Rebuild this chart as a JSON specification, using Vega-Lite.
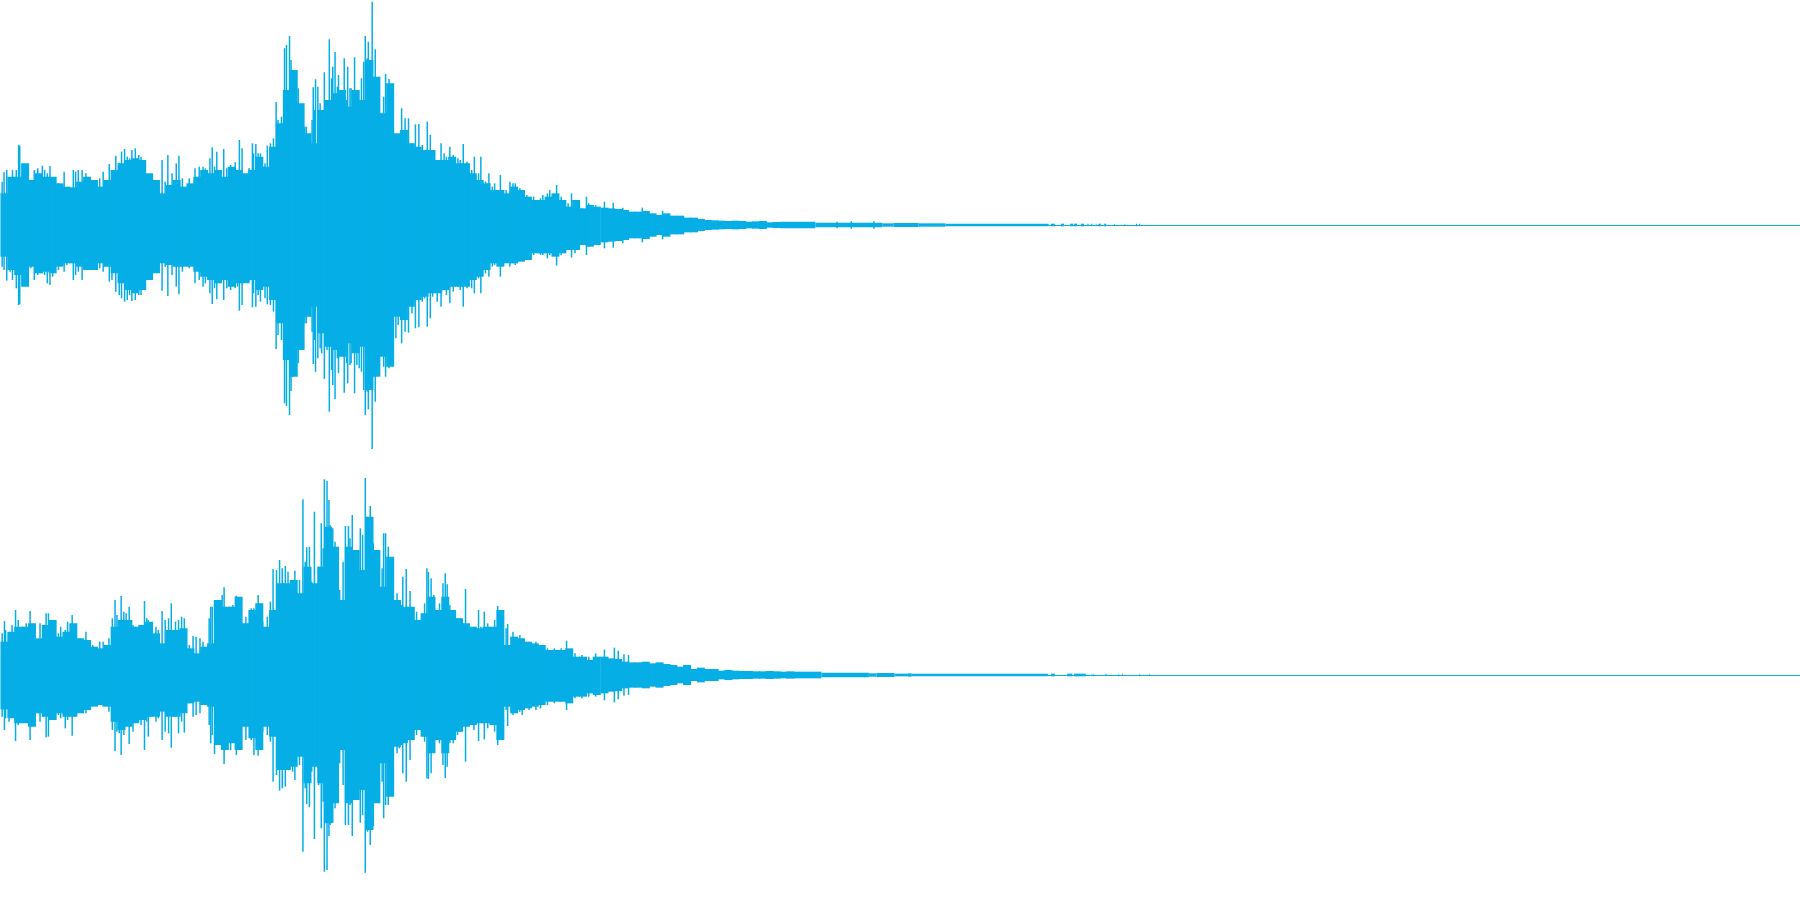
{"$schema":"https://vega.github.io/schema/vega-lite/v6.json","padding":0,"spacing":0,"background":"white","config":{"view":{"stroke":null},"concat":{"spacing":0}},
"datasets":{
"leftBody":[{"t":9,"hi":95,"lo":-95},{"t":27,"hi":145,"lo":-135},{"t":45,"hi":145,"lo":-150},{"t":63,"hi":185,"lo":-185},{"t":81,"hi":135,"lo":-125},{"t":99,"hi":155,"lo":-145},{"t":117,"hi":145,"lo":-140},{"t":135,"hi":145,"lo":-145},{"t":153,"hi":125,"lo":-125},{"t":171,"hi":115,"lo":-115},{"t":189,"hi":113,"lo":-115},{"t":207,"hi":130,"lo":-125},{"t":225,"hi":145,"lo":-135},{"t":243,"hi":135,"lo":-135},{"t":261,"hi":115,"lo":-115},{"t":279,"hi":135,"lo":-125},{"t":297,"hi":165,"lo":-145},{"t":315,"hi":185,"lo":-175},{"t":333,"hi":195,"lo":-195},{"t":351,"hi":200,"lo":-205},{"t":369,"hi":195,"lo":-195},{"t":387,"hi":155,"lo":-165},{"t":405,"hi":135,"lo":-145},{"t":423,"hi":95,"lo":-115},{"t":441,"hi":120,"lo":-120},{"t":459,"hi":135,"lo":-125},{"t":477,"hi":115,"lo":-125},{"t":495,"hi":125,"lo":-125},{"t":513,"hi":145,"lo":-140},{"t":531,"hi":165,"lo":-155},{"t":549,"hi":155,"lo":-165},{"t":567,"hi":165,"lo":-175},{"t":585,"hi":145,"lo":-165},{"t":603,"hi":175,"lo":-185},{"t":621,"hi":165,"lo":-175},{"t":639,"hi":155,"lo":-175},{"t":657,"hi":165,"lo":-165},{"t":675,"hi":205,"lo":-195},{"t":693,"hi":175,"lo":-185},{"t":711,"hi":235,"lo":-225},{"t":729,"hi":305,"lo":-295},{"t":747,"hi":405,"lo":-405},{"t":765,"hi":465,"lo":-455},{"t":783,"hi":365,"lo":-375},{"t":801,"hi":275,"lo":-275},{"t":819,"hi":245,"lo":-245},{"t":837,"hi":345,"lo":-325},{"t":855,"hi":375,"lo":-365},{"t":873,"hi":395,"lo":-375},{"t":891,"hi":405,"lo":-395},{"t":909,"hi":355,"lo":-355},{"t":927,"hi":405,"lo":-385},{"t":945,"hi":375,"lo":-365},{"t":963,"hi":495,"lo":-495},{"t":981,"hi":445,"lo":-455},{"t":999,"hi":335,"lo":-395},{"t":1017,"hi":425,"lo":-425},{"t":1035,"hi":275,"lo":-275},{"t":1053,"hi":285,"lo":-285},{"t":1071,"hi":245,"lo":-245},{"t":1089,"hi":235,"lo":-225},{"t":1107,"hi":225,"lo":-215},{"t":1125,"hi":225,"lo":-205},{"t":1143,"hi":195,"lo":-205},{"t":1161,"hi":195,"lo":-195},{"t":1179,"hi":205,"lo":-185},{"t":1197,"hi":185,"lo":-185},{"t":1215,"hi":185,"lo":-185},{"t":1233,"hi":155,"lo":-165},{"t":1251,"hi":135,"lo":-155},{"t":1269,"hi":125,"lo":-135},{"t":1287,"hi":105,"lo":-115},{"t":1305,"hi":105,"lo":-125},{"t":1323,"hi":95,"lo":-115},{"t":1341,"hi":115,"lo":-115},{"t":1359,"hi":105,"lo":-110},{"t":1377,"hi":85,"lo":-105},{"t":1395,"hi":75,"lo":-85},{"t":1413,"hi":75,"lo":-85},{"t":1431,"hi":85,"lo":-85},{"t":1449,"hi":95,"lo":-95},{"t":1467,"hi":75,"lo":-85},{"t":1485,"hi":55,"lo":-75},{"t":1503,"hi":75,"lo":-75},{"t":1521,"hi":50,"lo":-60},{"t":1539,"hi":60,"lo":-65},{"t":1557,"hi":55,"lo":-60},{"t":1577,"hi":52,"lo":-52},{"t":1595,"hi":50,"lo":-50},{"t":1613,"hi":48,"lo":-48},{"t":1631,"hi":45,"lo":-45},{"t":1649,"hi":40,"lo":-40},{"t":1667,"hi":40,"lo":-40},{"t":1685,"hi":42,"lo":-42},{"t":1703,"hi":35,"lo":-35},{"t":1721,"hi":30,"lo":-30},{"t":1739,"hi":35,"lo":-35},{"t":1757,"hi":28,"lo":-28},{"t":1775,"hi":28,"lo":-28},{"t":1793,"hi":22,"lo":-22},{"t":1811,"hi":22,"lo":-22},{"t":1829,"hi":18,"lo":-18},{"t":1847,"hi":15,"lo":-15},{"t":1865,"hi":14,"lo":-14},{"t":1883,"hi":13,"lo":-13},{"t":1901,"hi":12,"lo":-12},{"t":1919,"hi":13,"lo":-13},{"t":1937,"hi":12,"lo":-12},{"t":1955,"hi":10,"lo":-10},{"t":1973,"hi":11,"lo":-11},{"t":1991,"hi":12,"lo":-12},{"t":2009,"hi":8,"lo":-8},{"t":2027,"hi":9,"lo":-9}],
"leftTail":[{"t":2036,"t2":2128,"hi":10,"lo":-10},{"t":2128,"t2":2303,"hi":7,"lo":-7},{"t":2303,"t2":2333,"hi":5,"lo":-5},{"t":2333,"t2":2398,"hi":6,"lo":-6},{"t":2398,"t2":2468,"hi":5,"lo":-5},{"t":2468,"t2":2738,"hi":4,"lo":-4},{"t":2738,"t2":4704,"hi":0,"lo":-3},{"t":2744,"t2":2754,"hi":4,"lo":-4},{"t":2770,"t2":2778,"hi":4,"lo":-4},{"t":2794,"t2":2802,"hi":4,"lo":-4},{"t":2804,"t2":2812,"hi":4,"lo":-4},{"t":2822,"t2":2830,"hi":4,"lo":-4},{"t":2839,"t2":2842,"hi":4,"lo":-4},{"t":2849,"t2":2852,"hi":4,"lo":-4},{"t":2861,"t2":2863,"hi":4,"lo":-4},{"t":2868,"t2":2874,"hi":4,"lo":-4},{"t":2883,"t2":2888,"hi":4,"lo":-4},{"t":2909,"t2":2911,"hi":4,"lo":-4},{"t":2936,"t2":2938,"hi":4,"lo":-4},{"t":2966,"t2":2969,"hi":4,"lo":-4},{"t":2974,"t2":2977,"hi":4,"lo":-4}],
"leftPeaks":[{"t":46,"hi":240,"lo":-240},{"t":49,"hi":238,"lo":-238},{"t":15,"hi":165,"lo":-167},{"t":30,"hi":165,"lo":-165},{"t":69,"hi":175,"lo":-175},{"t":108,"hi":178,"lo":-145},{"t":128,"hi":177,"lo":-180},{"t":189,"hi":165,"lo":-165},{"t":300,"hi":208,"lo":-200},{"t":315,"hi":220,"lo":-220},{"t":323,"hi":228,"lo":-230},{"t":342,"hi":225,"lo":-228},{"t":360,"hi":210,"lo":-210},{"t":421,"hi":195,"lo":-197},{"t":436,"hi":210,"lo":-213},{"t":458,"hi":185,"lo":-185},{"t":465,"hi":208,"lo":-208},{"t":552,"hi":233,"lo":-237},{"t":564,"hi":220,"lo":-223},{"t":582,"hi":228,"lo":-225},{"t":623,"hi":255,"lo":-257},{"t":630,"hi":230,"lo":-240},{"t":657,"hi":245,"lo":-247},{"t":666,"hi":243,"lo":-245},{"t":678,"hi":215,"lo":-230},{"t":696,"hi":238,"lo":-238},{"t":719,"hi":369,"lo":-372},{"t":741,"hi":530,"lo":-535},{"t":746,"hi":540,"lo":-543},{"t":754,"hi":567,"lo":-570},{"t":758,"hi":495,"lo":-498},{"t":762,"hi":455,"lo":-455},{"t":777,"hi":410,"lo":-415},{"t":786,"hi":297,"lo":-300},{"t":798,"hi":295,"lo":-295},{"t":816,"hi":413,"lo":-417},{"t":822,"hi":437,"lo":-440},{"t":834,"hi":365,"lo":-370},{"t":845,"hi":458,"lo":-462},{"t":858,"hi":557,"lo":-560},{"t":867,"hi":475,"lo":-480},{"t":873,"hi":519,"lo":-522},{"t":882,"hi":450,"lo":-445},{"t":897,"hi":500,"lo":-503},{"t":906,"hi":475,"lo":-475},{"t":915,"hi":410,"lo":-415},{"t":924,"hi":503,"lo":-505},{"t":942,"hi":440,"lo":-440},{"t":948,"hi":490,"lo":-495},{"t":952,"hi":567,"lo":-570},{"t":960,"hi":550,"lo":-553},{"t":970,"hi":670,"lo":-672},{"t":978,"hi":527,"lo":-530},{"t":984,"hi":417,"lo":-420},{"t":1005,"hi":453,"lo":-455},{"t":1014,"hi":438,"lo":-430},{"t":1047,"hi":350,"lo":-355},{"t":1065,"hi":320,"lo":-323},{"t":1083,"hi":302,"lo":-310},{"t":1092,"hi":303,"lo":-307},{"t":1114,"hi":310,"lo":-305},{"t":1150,"hi":245,"lo":-245},{"t":1173,"hi":235,"lo":-235},{"t":1208,"hi":243,"lo":-245},{"t":1237,"hi":205,"lo":-205},{"t":1254,"hi":205,"lo":-205},{"t":1275,"hi":155,"lo":-155},{"t":1305,"hi":150,"lo":-155},{"t":1330,"hi":130,"lo":-125},{"t":1452,"hi":120,"lo":-122},{"t":1491,"hi":95,"lo":-98},{"t":1530,"hi":85,"lo":-90},{"t":1577,"hi":70,"lo":-70},{"t":1600,"hi":67,"lo":-68},{"t":1625,"hi":52,"lo":-55},{"t":1676,"hi":52,"lo":-52},{"t":1729,"hi":43,"lo":-43},{"t":2185,"hi":10,"lo":-10},{"t":2222,"hi":11,"lo":-11},{"t":2281,"hi":11,"lo":-11},
{"t":3,"hi":130,"lo":-125},{"t":8,"hi":158,"lo":-135},{"t":24,"hi":100,"lo":-140},{"t":40,"hi":165,"lo":-190},{"t":57,"hi":160,"lo":-175},{"t":63,"hi":145,"lo":-150},{"t":78,"hi":135,"lo":-130},{"t":87,"hi":165,"lo":-165},{"t":96,"hi":170,"lo":-150},{"t":102,"hi":135,"lo":-145},{"t":114,"hi":165,"lo":-150},{"t":121,"hi":155,"lo":-175},{"t":135,"hi":140,"lo":-155},{"t":150,"hi":125,"lo":-135},{"t":165,"hi":160,"lo":-140},{"t":172,"hi":110,"lo":-120},{"t":195,"hi":160,"lo":-150},{"t":202,"hi":165,"lo":-140},{"t":212,"hi":165,"lo":-165},{"t":222,"hi":155,"lo":-125},{"t":240,"hi":135,"lo":-130},{"t":258,"hi":140,"lo":-130},{"t":267,"hi":160,"lo":-140},{"t":283,"hi":183,"lo":-170},{"t":290,"hi":145,"lo":-165},{"t":309,"hi":185,"lo":-210},{"t":330,"hi":205,"lo":-225},{"t":336,"hi":200,"lo":-210},{"t":351,"hi":230,"lo":-225},{"t":366,"hi":205,"lo":-210},{"t":372,"hi":160,"lo":-175},{"t":390,"hi":150,"lo":-150},{"t":405,"hi":115,"lo":-115},{"t":429,"hi":130,"lo":-125},{"t":447,"hi":155,"lo":-150},{"t":474,"hi":140,"lo":-140},{"t":492,"hi":140,"lo":-130},{"t":507,"hi":170,"lo":-175},{"t":518,"hi":175,"lo":-165},{"t":528,"hi":175,"lo":-185},{"t":534,"hi":170,"lo":-175},{"t":546,"hi":200,"lo":-205},{"t":558,"hi":175,"lo":-190},{"t":574,"hi":145,"lo":-175},{"t":590,"hi":170,"lo":-190},{"t":600,"hi":180,"lo":-195},{"t":612,"hi":188,"lo":-190},{"t":618,"hi":160,"lo":-185},{"t":636,"hi":125,"lo":-170},{"t":648,"hi":170,"lo":-170},{"t":660,"hi":215,"lo":-205},{"t":672,"hi":215,"lo":-210},{"t":690,"hi":185,"lo":-220},{"t":704,"hi":245,"lo":-240},{"t":712,"hi":260,"lo":-260},{"t":724,"hi":315,"lo":-330},{"t":733,"hi":325,"lo":-345},{"t":768,"hi":385,"lo":-395},{"t":771,"hi":365,"lo":-400},{"t":794,"hi":295,"lo":-295},{"t":808,"hi":240,"lo":-275},{"t":813,"hi":315,"lo":-320},{"t":819,"hi":345,"lo":-345},{"t":828,"hi":415,"lo":-400},{"t":838,"hi":325,"lo":-385},{"t":852,"hi":355,"lo":-375},{"t":864,"hi":440,"lo":-435},{"t":879,"hi":415,"lo":-400},{"t":888,"hi":390,"lo":-385},{"t":903,"hi":375,"lo":-415},{"t":912,"hi":410,"lo":-420},{"t":930,"hi":385,"lo":-420},{"t":936,"hi":330,"lo":-430},{"t":957,"hi":500,"lo":-500},{"t":966,"hi":450,"lo":-480},{"t":990,"hi":335,"lo":-390},{"t":1000,"hi":385,"lo":-425},{"t":1020,"hi":365,"lo":-370},{"t":1032,"hi":270,"lo":-340},{"t":1038,"hi":250,"lo":-300},{"t":1056,"hi":320,"lo":-320},{"t":1074,"hi":245,"lo":-265},{"t":1101,"hi":240,"lo":-230},{"t":1107,"hi":215,"lo":-220},{"t":1122,"hi":270,"lo":-280},{"t":1128,"hi":225,"lo":-215},{"t":1140,"hi":195,"lo":-230},{"t":1158,"hi":215,"lo":-195},{"t":1164,"hi":205,"lo":-210},{"t":1182,"hi":210,"lo":-200},{"t":1194,"hi":200,"lo":-185},{"t":1200,"hi":195,"lo":-195},{"t":1218,"hi":190,"lo":-190},{"t":1230,"hi":165,"lo":-190},{"t":1248,"hi":155,"lo":-160},{"t":1266,"hi":130,"lo":-145},{"t":1284,"hi":115,"lo":-125},{"t":1290,"hi":125,"lo":-120},{"t":1320,"hi":105,"lo":-105},{"t":1338,"hi":125,"lo":-115},{"t":1344,"hi":125,"lo":-120},{"t":1356,"hi":110,"lo":-105},{"t":1374,"hi":90,"lo":-105},{"t":1392,"hi":85,"lo":-90},{"t":1410,"hi":80,"lo":-90},{"t":1416,"hi":90,"lo":-90},{"t":1428,"hi":95,"lo":-100},{"t":1434,"hi":105,"lo":-90},{"t":1464,"hi":85,"lo":-90},{"t":1482,"hi":65,"lo":-75},{"t":1500,"hi":60,"lo":-85},{"t":1518,"hi":50,"lo":-60},{"t":1536,"hi":65,"lo":-65},{"t":1554,"hi":60,"lo":-60}],
"rightBody":[{"t":9,"hi":100,"lo":-103},{"t":27,"hi":130,"lo":-130},{"t":45,"hi":145,"lo":-145},{"t":63,"hi":145,"lo":-145},{"t":81,"hi":155,"lo":-155},{"t":99,"hi":110,"lo":-115},{"t":117,"hi":150,"lo":-125},{"t":135,"hi":165,"lo":-135},{"t":153,"hi":115,"lo":-115},{"t":171,"hi":130,"lo":-125},{"t":189,"hi":155,"lo":-125},{"t":207,"hi":110,"lo":-115},{"t":225,"hi":105,"lo":-105},{"t":243,"hi":85,"lo":-95},{"t":261,"hi":80,"lo":-90},{"t":279,"hi":90,"lo":-95},{"t":297,"hi":145,"lo":-140},{"t":315,"hi":165,"lo":-165},{"t":333,"hi":165,"lo":-155},{"t":351,"hi":145,"lo":-145},{"t":369,"hi":150,"lo":-135},{"t":387,"hi":160,"lo":-125},{"t":405,"hi":125,"lo":-125},{"t":423,"hi":95,"lo":-110},{"t":441,"hi":135,"lo":-125},{"t":459,"hi":135,"lo":-125},{"t":477,"hi":140,"lo":-115},{"t":495,"hi":80,"lo":-85},{"t":513,"hi":65,"lo":-80},{"t":531,"hi":85,"lo":-90},{"t":549,"hi":95,"lo":-95},{"t":567,"hi":225,"lo":-210},{"t":585,"hi":205,"lo":-225},{"t":603,"hi":205,"lo":-205},{"t":621,"hi":235,"lo":-225},{"t":639,"hi":155,"lo":-155},{"t":657,"hi":195,"lo":-190},{"t":675,"hi":215,"lo":-225},{"t":693,"hi":145,"lo":-155},{"t":711,"hi":195,"lo":-185},{"t":729,"hi":275,"lo":-285},{"t":747,"hi":275,"lo":-285},{"t":765,"hi":285,"lo":-275},{"t":783,"hi":245,"lo":-245},{"t":801,"hi":325,"lo":-325},{"t":819,"hi":275,"lo":-275},{"t":837,"hi":325,"lo":-325},{"t":855,"hi":445,"lo":-445},{"t":873,"hi":385,"lo":-385},{"t":891,"hi":225,"lo":-225},{"t":909,"hi":385,"lo":-385},{"t":927,"hi":375,"lo":-375},{"t":945,"hi":315,"lo":-345},{"t":963,"hi":475,"lo":-465},{"t":981,"hi":375,"lo":-385},{"t":999,"hi":265,"lo":-265},{"t":1017,"hi":355,"lo":-365},{"t":1035,"hi":225,"lo":-215},{"t":1053,"hi":205,"lo":-205},{"t":1071,"hi":205,"lo":-195},{"t":1089,"hi":165,"lo":-165},{"t":1107,"hi":185,"lo":-185},{"t":1125,"hi":235,"lo":-235},{"t":1143,"hi":195,"lo":-195},{"t":1161,"hi":235,"lo":-235},{"t":1179,"hi":195,"lo":-195},{"t":1197,"hi":170,"lo":-170},{"t":1215,"hi":155,"lo":-155},{"t":1233,"hi":145,"lo":-150},{"t":1251,"hi":140,"lo":-145},{"t":1269,"hi":145,"lo":-145},{"t":1287,"hi":145,"lo":-150},{"t":1305,"hi":195,"lo":-195},{"t":1323,"hi":90,"lo":-95},{"t":1341,"hi":115,"lo":-115},{"t":1359,"hi":110,"lo":-105},{"t":1377,"hi":100,"lo":-100},{"t":1395,"hi":95,"lo":-95},{"t":1413,"hi":90,"lo":-90},{"t":1431,"hi":75,"lo":-80},{"t":1449,"hi":75,"lo":-80},{"t":1467,"hi":75,"lo":-80},{"t":1485,"hi":80,"lo":-85},{"t":1503,"hi":55,"lo":-65},{"t":1521,"hi":55,"lo":-65},{"t":1539,"hi":45,"lo":-55},{"t":1557,"hi":55,"lo":-60},{"t":1577,"hi":55,"lo":-55},{"t":1595,"hi":50,"lo":-50},{"t":1613,"hi":48,"lo":-48},{"t":1631,"hi":40,"lo":-40},{"t":1649,"hi":38,"lo":-38},{"t":1667,"hi":38,"lo":-38},{"t":1685,"hi":40,"lo":-40},{"t":1703,"hi":35,"lo":-35},{"t":1721,"hi":38,"lo":-38},{"t":1739,"hi":33,"lo":-33},{"t":1757,"hi":30,"lo":-30},{"t":1775,"hi":25,"lo":-25},{"t":1793,"hi":30,"lo":-30},{"t":1811,"hi":18,"lo":-18},{"t":1829,"hi":22,"lo":-22},{"t":1847,"hi":18,"lo":-18},{"t":1865,"hi":18,"lo":-18},{"t":1883,"hi":13,"lo":-13},{"t":1901,"hi":15,"lo":-15},{"t":1919,"hi":13,"lo":-13},{"t":1937,"hi":12,"lo":-12},{"t":1955,"hi":12,"lo":-12},{"t":1973,"hi":11,"lo":-11},{"t":1991,"hi":11,"lo":-11},{"t":2009,"hi":12,"lo":-12},{"t":2027,"hi":11,"lo":-11},{"t":2045,"hi":10,"lo":-10},{"t":2063,"hi":11,"lo":-11}],
"rightTail":[{"t":2072,"t2":2144,"hi":10,"lo":-10},{"t":2144,"t2":2268,"hi":7,"lo":-7},{"t":2268,"t2":2288,"hi":5,"lo":-5},{"t":2288,"t2":2335,"hi":6,"lo":-6},{"t":2335,"t2":2370,"hi":4,"lo":-4},{"t":2370,"t2":2380,"hi":5,"lo":-5},{"t":2380,"t2":2736,"hi":4,"lo":-4},{"t":2736,"t2":4704,"hi":0,"lo":-3},{"t":2744,"t2":2754,"hi":4,"lo":-4},{"t":2786,"t2":2800,"hi":4,"lo":-4},{"t":2804,"t2":2835,"hi":4,"lo":-4},{"t":2850,"t2":2852,"hi":4,"lo":-4},{"t":2855,"t2":2857,"hi":4,"lo":-4},{"t":2886,"t2":2889,"hi":4,"lo":-4},{"t":2920,"t2":2922,"hi":4,"lo":-4},{"t":2930,"t2":2932,"hi":4,"lo":-4},{"t":2975,"t2":2977,"hi":4,"lo":-4},{"t":3001,"t2":3003,"hi":4,"lo":-4}],
"rightPeaks":[{"t":1577,"hi":76,"lo":-76},{"t":1603,"hi":82,"lo":-82},{"t":1613,"hi":73,"lo":-73},{"t":1628,"hi":62,"lo":-62},{"t":1640,"hi":60,"lo":-60},{"t":9,"hi":162,"lo":-165},{"t":38,"hi":195,"lo":-198},{"t":76,"hi":192,"lo":-195},{"t":118,"hi":185,"lo":-187},{"t":124,"hi":185,"lo":-185},{"t":186,"hi":180,"lo":-182},{"t":298,"hi":225,"lo":-228},{"t":314,"hi":237,"lo":-240},{"t":321,"hi":190,"lo":-180},{"t":335,"hi":205,"lo":-207},{"t":375,"hi":222,"lo":-225},{"t":385,"hi":165,"lo":-185},{"t":421,"hi":192,"lo":-195},{"t":445,"hi":215,"lo":-218},{"t":464,"hi":165,"lo":-175},{"t":479,"hi":170,"lo":-173},{"t":502,"hi":117,"lo":-125},{"t":520,"hi":110,"lo":-115},{"t":548,"hi":205,"lo":-205},{"t":558,"hi":223,"lo":-237},{"t":583,"hi":263,"lo":-267},{"t":615,"hi":238,"lo":-240},{"t":672,"hi":240,"lo":-242},{"t":711,"hi":318,"lo":-320},{"t":728,"hi":345,"lo":-347},{"t":743,"hi":327,"lo":-335},{"t":768,"hi":313,"lo":-315},{"t":789,"hi":527,"lo":-530},{"t":799,"hi":383,"lo":-387},{"t":806,"hi":385,"lo":-397},{"t":819,"hi":490,"lo":-492},{"t":837,"hi":455,"lo":-460},{"t":845,"hi":587,"lo":-590},{"t":852,"hi":582,"lo":-585},{"t":857,"hi":525,"lo":-483},{"t":867,"hi":440,"lo":-443},{"t":900,"hi":447,"lo":-450},{"t":908,"hi":447,"lo":-450},{"t":918,"hi":480,"lo":-483},{"t":939,"hi":440,"lo":-443},{"t":952,"hi":591,"lo":-593},{"t":965,"hi":507,"lo":-510},{"t":973,"hi":395,"lo":-453},{"t":1000,"hi":425,"lo":-430},{"t":1012,"hi":385,"lo":-390},{"t":1050,"hi":295,"lo":-295},{"t":1059,"hi":318,"lo":-320},{"t":1069,"hi":252,"lo":-255},{"t":1117,"hi":309,"lo":-312},{"t":1124,"hi":290,"lo":-295},{"t":1161,"hi":305,"lo":-309},{"t":1166,"hi":272,"lo":-275},{"t":1214,"hi":258,"lo":-260},{"t":1248,"hi":195,"lo":-198},{"t":1263,"hi":190,"lo":-193},{"t":1298,"hi":207,"lo":-210},{"t":1324,"hi":153,"lo":-153},{"t":1478,"hi":103,"lo":-105},
{"t":3,"hi":125,"lo":-125},{"t":12,"hi":135,"lo":-130},{"t":21,"hi":120,"lo":-140},{"t":29,"hi":150,"lo":-120},{"t":45,"hi":165,"lo":-150},{"t":57,"hi":145,"lo":-135},{"t":66,"hi":155,"lo":-140},{"t":84,"hi":135,"lo":-130},{"t":96,"hi":105,"lo":-110},{"t":102,"hi":155,"lo":-140},{"t":111,"hi":130,"lo":-125},{"t":132,"hi":145,"lo":-125},{"t":150,"hi":125,"lo":-120},{"t":156,"hi":145,"lo":-130},{"t":168,"hi":135,"lo":-160},{"t":174,"hi":160,"lo":-135},{"t":192,"hi":125,"lo":-125},{"t":207,"hi":110,"lo":-110},{"t":222,"hi":130,"lo":-115},{"t":228,"hi":105,"lo":-95},{"t":240,"hi":90,"lo":-90},{"t":258,"hi":100,"lo":-90},{"t":267,"hi":100,"lo":-95},{"t":282,"hi":110,"lo":-110},{"t":291,"hi":170,"lo":-165},{"t":303,"hi":180,"lo":-170},{"t":309,"hi":165,"lo":-175},{"t":327,"hi":185,"lo":-145},{"t":345,"hi":150,"lo":-170},{"t":352,"hi":145,"lo":-140},{"t":366,"hi":110,"lo":-150},{"t":381,"hi":170,"lo":-140},{"t":390,"hi":130,"lo":-125},{"t":405,"hi":145,"lo":-140},{"t":411,"hi":135,"lo":-130},{"t":429,"hi":165,"lo":-170},{"t":438,"hi":170,"lo":-175},{"t":456,"hi":160,"lo":-125},{"t":472,"hi":175,"lo":-140},{"t":492,"hi":90,"lo":-85},{"t":510,"hi":115,"lo":-120},{"t":528,"hi":100,"lo":-90},{"t":544,"hi":170,"lo":-150},{"t":552,"hi":205,"lo":-180},{"t":567,"hi":210,"lo":-210},{"t":578,"hi":240,"lo":-220},{"t":600,"hi":205,"lo":-225},{"t":606,"hi":210,"lo":-195},{"t":620,"hi":220,"lo":-215},{"t":640,"hi":175,"lo":-195},{"t":654,"hi":200,"lo":-195},{"t":661,"hi":200,"lo":-240},{"t":684,"hi":160,"lo":-170},{"t":696,"hi":175,"lo":-180},{"t":704,"hi":220,"lo":-200},{"t":720,"hi":315,"lo":-300},{"t":735,"hi":320,"lo":-340},{"t":750,"hi":310,"lo":-270},{"t":762,"hi":280,"lo":-290},{"t":780,"hi":285,"lo":-270},{"t":795,"hi":340,"lo":-340},{"t":812,"hi":280,"lo":-290},{"t":830,"hi":325,"lo":-330},{"t":842,"hi":380,"lo":-380},{"t":860,"hi":450,"lo":-450},{"t":873,"hi":400,"lo":-400},{"t":885,"hi":255,"lo":-265},{"t":894,"hi":340,"lo":-330},{"t":912,"hi":410,"lo":-390},{"t":930,"hi":345,"lo":-370},{"t":945,"hi":420,"lo":-420},{"t":958,"hi":470,"lo":-470},{"t":978,"hi":365,"lo":-370},{"t":996,"hi":320,"lo":-320},{"t":1005,"hi":425,"lo":-390},{"t":1020,"hi":320,"lo":-300},{"t":1035,"hi":245,"lo":-235},{"t":1041,"hi":215,"lo":-220},{"t":1047,"hi":210,"lo":-210},{"t":1086,"hi":190,"lo":-180},{"t":1107,"hi":215,"lo":-200},{"t":1113,"hi":320,"lo":-310},{"t":1131,"hi":240,"lo":-220},{"t":1146,"hi":215,"lo":-205},{"t":1155,"hi":275,"lo":-270},{"t":1173,"hi":210,"lo":-205},{"t":1182,"hi":185,"lo":-205},{"t":1193,"hi":170,"lo":-180},{"t":1200,"hi":170,"lo":-170},{"t":1236,"hi":145,"lo":-165},{"t":1254,"hi":145,"lo":-130},{"t":1272,"hi":155,"lo":-160},{"t":1290,"hi":165,"lo":-170},{"t":1308,"hi":120,"lo":-95},{"t":1320,"hi":140,"lo":-105},{"t":1338,"hi":130,"lo":-120},{"t":1356,"hi":120,"lo":-110},{"t":1362,"hi":110,"lo":-120},{"t":1380,"hi":95,"lo":-105},{"t":1398,"hi":100,"lo":-105},{"t":1410,"hi":90,"lo":-100},{"t":1428,"hi":80,"lo":-90},{"t":1446,"hi":80,"lo":-85},{"t":1464,"hi":80,"lo":-80},{"t":1500,"hi":65,"lo":-70},{"t":1518,"hi":60,"lo":-70},{"t":1536,"hi":55,"lo":-65},{"t":1554,"hi":65,"lo":-65}]
},
"vconcat":[
{"width":1800,"height":450,"encoding":{"x":{"field":"t","type":"quantitative","scale":{"domain":[0,4704],"nice":false,"zero":false},"axis":null},"y":{"field":"lo","type":"quantitative","scale":{"domain":[-675,675],"nice":false},"axis":null},"y2":{"field":"hi"}},
"layer":[{"data":{"name":"leftBody"},"mark":{"type":"rule","color":"#06AEE6","strokeWidth":8}},{"data":{"name":"leftTail"},"mark":{"type":"rect","color":"#06AEE6"},"encoding":{"x2":{"field":"t2"}}},{"data":{"name":"leftPeaks"},"mark":{"type":"rule","color":"#06AEE6","strokeWidth":1.5}}]},
{"width":1800,"height":450,"encoding":{"x":{"field":"t","type":"quantitative","scale":{"domain":[0,4704],"nice":false,"zero":false},"axis":null},"y":{"field":"lo","type":"quantitative","scale":{"domain":[-675,675],"nice":false},"axis":null},"y2":{"field":"hi"}},
"layer":[{"data":{"name":"rightBody"},"mark":{"type":"rule","color":"#06AEE6","strokeWidth":8}},{"data":{"name":"rightTail"},"mark":{"type":"rect","color":"#06AEE6"},"encoding":{"x2":{"field":"t2"}}},{"data":{"name":"rightPeaks"},"mark":{"type":"rule","color":"#06AEE6","strokeWidth":1.5}}]}
]}
